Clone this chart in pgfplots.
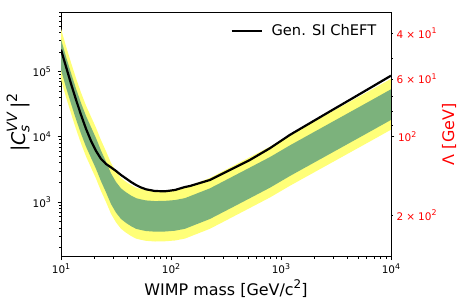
\documentclass[border=0pt]{standalone}
\usepackage{pgfplots}
\pgfplotsset{compat=1.18}
\usepackage{pgfplotstable}
\usepgfplotslibrary{fillbetween}
\usepackage{graphicx}
\usepackage{fontspec}
\setmainfont{DejaVu Sans}
\definecolor{byellow}{RGB}{255,255,120}
\definecolor{bgreen}{RGB}{124,178,124}
\newcommand\sups[1]{\raisebox{0.42em}{\scalebox{0.75}{#1}}}
\newcommand\subs[1]{\raisebox{-0.22em}{\scalebox{0.72}{#1}}}

\pgfplotstableread{
m yu gu gl yl
10 457000 316000 107000 75900
11.1 245500 169800 57540 40740
12.33 138000 95500 32360 22910
13.69 79430 54950 18620 13180
15.2 47860 33110 11220 7943
16.88 30200 20890 7079 5012
18.74 20420 14130 4786 3388
20.81 13800 9550 3236 2291
23.1 8913 6166 2089 1479
25.65 6026 4169 1413 1000
28.48 3981 2754 933 661
31.62 2938 2032 689 488
35.11 2344 1622 550 389
38.98 2042 1413 479 339
43.29 1820 1259 427 302
48.06 1660 1148 389 275
53.37 1585 1096 372 263
59.26 1531 1059 359 254
71.54 1496 1035 351 248
88.2 1507 1042 353 250
108.7 1549 1072 363 257
134.1 1660 1148 389 275
226 2344 1622 550 389
344 3388 2344 794 562
523 4898 3388 1148 813
794 7079 4898 1660 1175
1207 10720 7413 2512 1778
1834 15850 10960 3715 2630
2789 23440 16220 5495 3890
4239 34670 23990 8128 5754
6444 51290 35480 12020 8511
10000 77620 53700 18200 12880
}\bands

\pgfplotstableread{
m c
10 218000
11.1 119400
12.33 65400
13.69 37100
15.2 21800
16.88 13280
18.74 8680
20.81 6090
23.1 4590
25.65 3840
28.48 3400
31.62 3000
35.11 2600
38.98 2300
43.29 2030
48.06 1826
53.37 1672
59.26 1568
71.54 1476
88.2 1461
108.7 1530
134.1 1701
148.8 1763
226.2 2180
343.9 3110
522.6 4430
794.3 6700
1207 10740
1834 16250
2789 24600
4239 37100
6444 56100
10000 86800
}\observed

\begin{document}
\begin{tikzpicture}
\begin{axis}[
  at={(61bp,50.3bp)}, anchor=south west,
  width=330bp, height=244.7bp, scale only axis,
  xmode=log, ymode=log,
  xmin=10, xmax=10000, ymin=145, ymax=823000,
  axis line style={line width=0.9bp},
  tick align=outside, tick pos=left,
  major tick length=3.5bp, minor tick length=2bp,
  every tick/.style={black, line width=0.7bp},
  xtick={10,100,1000,10000},
  xticklabels={10\sups{1},10\sups{2},10\sups{3},10\sups{4}},
  minor xtick={20,30,40,50,60,70,80,90,200,300,400,500,600,700,800,900,2000,3000,4000,5000,6000,7000,8000,9000},
  ytick={1000,10000,100000},
  yticklabels={10\sups{3},10\sups{4},10\sups{5}},
  minor ytick={200,300,400,500,600,700,800,900,2000,3000,4000,5000,6000,7000,8000,9000,20000,30000,40000,50000,60000,70000,80000,90000,200000,300000,400000,500000,600000,700000,800000},
  ticklabel style={font=\fontsize{10.5}{12.5}\selectfont},
  yticklabel style={xshift=-3bp},
  xlabel={WIMP mass [GeV/c\sups{2}]},
  ylabel={|\textit{C}\rlap{\subs{\textit{s}}}\sups{\textit{VV}}\,|\sups{2}},
  xlabel style={font=\fontsize{16}{19}\selectfont, at={(axis description cs:0.5,-0.157)}, anchor=base},
  ylabel style={font=\fontsize{19}{23}\selectfont, at={(axis description cs:-0.13,0.548)}, anchor=center},
  legend style={at={(axis description cs:0.962,0.922)}, anchor=east, draw=none, fill=none,
    font=\fontsize{14.7}{17}\selectfont, inner sep=0pt,
    /tikz/every odd column/.append style={column sep=7bp}},
  legend image code/.code={\draw[#1] (0bp,0bp) -- (30bp,0bp);},
  legend cell align=left,
]
\addplot[draw=none, name path=yu, forget plot] table[x=m, y=yu]{\bands};
\addplot[draw=none, name path=yl, forget plot] table[x=m, y=yl]{\bands};
\addplot[draw=none, name path=gu, forget plot] table[x=m, y=gu]{\bands};
\addplot[draw=none, name path=gl, forget plot] table[x=m, y=gl]{\bands};
\addplot[fill=byellow, draw=none, forget plot] fill between[of=yu and yl];
\addplot[fill=bgreen, draw=none, forget plot] fill between[of=gu and gl];
\addplot[black, line width=2.2bp] table[x=m, y=c]{\observed};
\addlegendentry{Gen. SI ChEFT}
\end{axis}
\begin{axis}[
  at={(61bp,50.3bp)}, anchor=south west,
  width=330bp, height=244.7bp, scale only axis,
  xmode=log, xmin=10, xmax=10000,
  ymode=log, y dir=reverse, ymin=33.2, ymax=288.4,
  axis x line=none, axis y line*=right,
  axis line style={line width=0.9bp, -},
  tick align=outside,
  major tick length=3.5bp, minor tick length=2bp,
  every tick/.style={black, line width=0.7bp},
  ytick={100}, yticklabels={10\sups{2}},
  extra y ticks={40,60,200},
  extra y tick labels={4\hspace{0.3em}×\hspace{0.3em}10\sups{1},6\hspace{0.3em}×\hspace{0.3em}10\sups{1},2\hspace{0.3em}×\hspace{0.3em}10\sups{2}},
  extra y tick style={major tick length=2bp},
  minor ytick={50,70,80,90},
  yticklabel style={font=\fontsize{10.5}{12.5}\selectfont, text=red},
  ylabel={Λ [GeV]},
  ylabel style={font=\fontsize{16}{19}\selectfont, text=red, at={(axis description cs:1.176,0.5)}, anchor=center},
]
\addplot[draw=none] coordinates {(100,100)};
\end{axis}
\pgfresetboundingbox
\useasboundingbox (0,0) rectangle (467bp,307bp);
\end{tikzpicture}
\end{document}
